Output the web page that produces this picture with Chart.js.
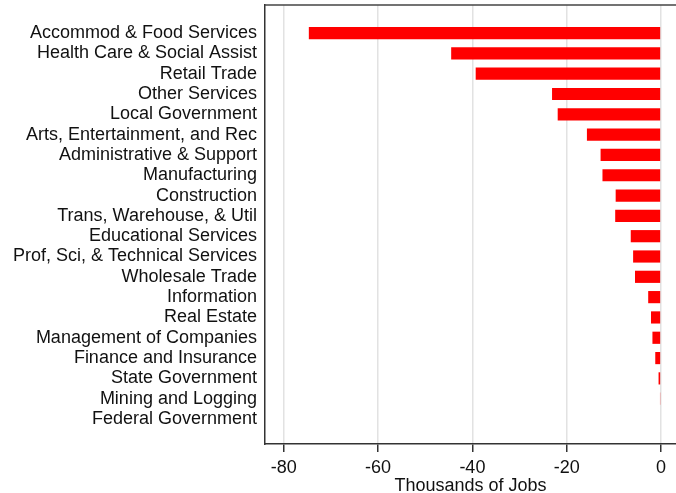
<!DOCTYPE html>
<html>
<head>
<meta charset="utf-8">
<script src="https://cdn.jsdelivr.net/npm/chart.js@4"></script>
<style>
  html, body { margin: 0; padding: 0; background: #fff; }
  #wrap { width: 676px; height: 493px; position: relative; }
</style>
</head>
<body>
<div id="wrap"><canvas id="c" width="676" height="493"></canvas></div>
<script>
const categories = [
  "Accommod & Food Services",
  "Health Care & Social Assist",
  "Retail Trade",
  "Other Services",
  "Local Government",
  "Arts, Entertainment, and Rec",
  "Administrative & Support",
  "Manufacturing",
  "Construction",
  "Trans, Warehouse, & Util",
  "Educational Services",
  "Prof, Sci, & Technical Services",
  "Wholesale Trade",
  "Information",
  "Real Estate",
  "Management of Companies",
  "Finance and Insurance",
  "State Government",
  "Mining and Logging",
  "Federal Government"
];
const jobChange = [
  -74.7, -44.5, -39.3, -23.1, -21.9, -15.7, -12.8, -12.4, -9.6, -9.7,
  -6.4, -5.9, -5.5, -2.7, -2.1, -1.8, -1.2, -0.5, -0.2, 0
];
const xTicks = [-80, -60, -40, -20, 0];
const xTitle = "Thousands of Jobs";

const FONT = "'Liberation Sans', Arial, sans-serif";
const TEXT = "#111111";

const topBorder = {
  id: 'topBorder',
  afterDraw(chart) {
    const a = chart.chartArea, ctx = chart.ctx;
    ctx.save();
    ctx.strokeStyle = '#444';
    ctx.lineWidth = 1.5;
    ctx.beginPath();
    ctx.moveTo(a.left, a.top);
    ctx.lineTo(a.right, a.top);
    ctx.stroke();
    ctx.restore();
  }
};

new Chart(document.getElementById('c'), {
  type: 'bar',
  data: {
    datasets: [{
      data: jobChange.map((v, i) => ({ x: v, y: i })),
      backgroundColor: '#ff0000',
      borderWidth: 0,
      barPercentage: 0.6,
      categoryPercentage: 1.0
    }]
  },
  options: {
    indexAxis: 'y',
    responsive: false,
    animation: false,
    events: [],
    layout: { padding: { top: 5, left: 0, right: 0, bottom: 0 } },
    plugins: { legend: { display: false }, tooltip: { enabled: false } },
    scales: {
      x: {
        type: 'linear',
        position: 'bottom',
        offset: false,
        min: -84,
        max: 3.2,
        afterBuildTicks(scale) { scale.ticks = xTicks.map(v => ({ value: v })); },
        afterFit(scale) { scale.height = 49; scale.paddingLeft = 0; scale.paddingRight = 0; },
        ticks: {
          includeBounds: false,
          autoSkip: false,
          maxRotation: 0,
          color: TEXT,
          padding: 7,
          font: { family: FONT, size: 18, lineHeight: 1 }
        },
        grid: {
          color: '#e2e2e2',
          lineWidth: 1.5,
          drawTicks: true,
          tickLength: 8,
          tickColor: '#333',
          tickWidth: 1.5
        },
        border: { display: true, color: '#333', width: 1.5 },
        title: {
          display: true,
          text: xTitle,
          color: TEXT,
          padding: { top: 0, bottom: 0 },
          font: { family: FONT, size: 18, lineHeight: 0.8 }
        }
      },
      y: {
        type: 'linear',
        reverse: true,
        offset: false,
        min: -1.38,
        max: 20.23,
        afterBuildTicks(scale) { scale.ticks = categories.map((c, i) => ({ value: i })); },
        afterFit(scale) { scale.width = 265; scale.paddingTop = 0; scale.paddingBottom = 0; },
        ticks: {
          autoSkip: false,
          color: TEXT,
          padding: 8,
          font: { family: FONT, size: 18, lineHeight: 1 },
          callback: (v) => categories[v] !== undefined ? categories[v] : ''
        },
        grid: { display: true, color: 'rgba(0,0,0,0)', drawTicks: false },
        border: { display: true, color: '#333', width: 1.5 }
      }
    }
  },
  plugins: [topBorder]
});
</script>
</body>
</html>
